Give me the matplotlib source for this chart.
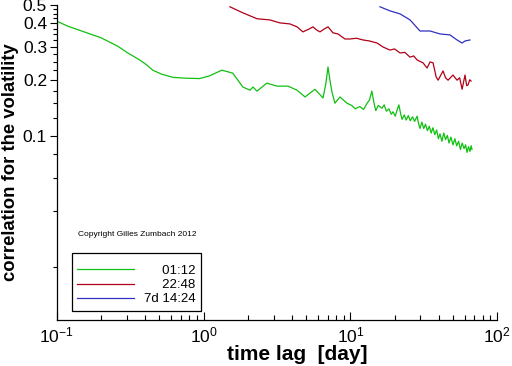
import matplotlib
matplotlib.use("Agg")
import matplotlib.pyplot as plt
import numpy as np
from matplotlib.ticker import FixedLocator, NullFormatter

plt.rcParams['font.family'] = ['Liberation Sans', 'DejaVu Sans']

# ---- data (time lag in days, correlation) ----
lag_0112 = [0.1, 0.12, 0.16, 0.2, 0.26, 0.3, 0.37, 0.41, 0.45, 0.52, 0.62, 0.75, 0.94,
            1.1, 1.33, 1.58, 1.85, 2.07, 2.17, 2.31,
            2.70, 3.16, 3.76, 4.33, 4.91, 5.74, 6.51, 6.8, 7.04, 7.25, 7.49, 7.85, 8.49, 9.48,
            10.2, 10.8, 11.6, 12.3, 13.0, 13.5, 14.0, 14.5, 14.9, 15.5, 16.4, 17.0, 17.6,
            18.3, 19.0, 19.5, 20.2, 21.0, 21.4, 22.0, 22.5, 23.3, 24.0, 24.8, 25.6, 26.5,
            27.4, 28.5, 29.2, 29.8, 30.7, 31.6, 32.5, 33.5, 34.5, 35.5, 36.5, 37.6, 38.7,
            39.8, 40.8, 42.0, 43.3, 44.5, 45.8, 47.0, 48.4, 50.0, 51.5, 53.0, 54.6, 56.2,
            57.8, 59.5, 61.0, 62.3, 63.8, 65.3, 66.5, 67.4]
corr_0112 = [0.41, 0.385, 0.356, 0.335, 0.302, 0.28, 0.254, 0.24, 0.225, 0.214, 0.206,
             0.204, 0.203, 0.21, 0.225, 0.217, 0.183, 0.176,
             0.183, 0.174, 0.192, 0.185, 0.185, 0.176, 0.162, 0.178, 0.160, 0.19, 0.234,
             0.20, 0.172, 0.150, 0.162, 0.150,
             0.146, 0.140, 0.144, 0.139, 0.150, 0.156, 0.174, 0.150, 0.137, 0.146, 0.141,
             0.147, 0.136, 0.140, 0.131, 0.135, 0.128, 0.141, 0.147, 0.132, 0.123, 0.130,
             0.122, 0.129, 0.121, 0.127, 0.120, 0.128, 0.116, 0.110, 0.119, 0.110, 0.116,
             0.107, 0.113, 0.104, 0.111, 0.102, 0.108, 0.097, 0.103, 0.094, 0.104, 0.096,
             0.101, 0.092, 0.099, 0.090, 0.097, 0.089, 0.094, 0.085, 0.092, 0.086, 0.090,
             0.082, 0.088, 0.083, 0.089, 0.085]

lag_2248 = [1.51, 1.85, 2.31, 2.83, 3.31, 3.87, 4.33, 4.75, 5.2, 5.56, 5.9, 6.21, 6.6, 7.04,
            7.61, 8.23, 9.18, 9.93, 11.0, 12.2, 13.5, 15.2, 16.7, 18.6, 20.0, 21.8, 23.5,
            25.5, 27.0, 28.5, 31.3, 33.3, 34.9, 36.6, 38.4, 39.6, 42.8, 44.5, 46.3, 50.0,
            53.3, 55.5, 57.7, 60.4, 62.0, 63.4, 65.0, 66.4]
corr_2248 = [0.490, 0.455, 0.423, 0.417, 0.402, 0.397, 0.383, 0.360, 0.372, 0.383, 0.368,
             0.360, 0.372, 0.383, 0.356, 0.351, 0.330, 0.330, 0.333, 0.326, 0.322, 0.314,
             0.299, 0.288, 0.292, 0.278, 0.280, 0.264, 0.268, 0.255, 0.246, 0.231, 0.249,
             0.246, 0.207, 0.199, 0.223, 0.205, 0.199, 0.212, 0.199, 0.205, 0.178, 0.212,
             0.186, 0.188, 0.200, 0.197]

lag_7d = [15.9, 18.6, 21.8, 25.5, 29.8, 34.9, 40.8, 47.7, 53.3, 57.7, 60.4, 65.3]
corr_7d = [0.490, 0.466, 0.449, 0.417, 0.364, 0.364, 0.351, 0.347, 0.326, 0.314, 0.322, 0.326]

labels = ['     01:12', '     22:48', '7d 14:24']
y_major = [0.1, 0.2, 0.3, 0.4, 0.5]
y_minor = [0.02, 0.04, 0.06, 0.08, 0.125, 0.15, 0.175, 0.225, 0.25, 0.275,
           0.325, 0.35, 0.375, 0.425, 0.45, 0.475]

fig = plt.figure(figsize=(5.12, 3.66), dpi=100)
ax = fig.add_axes([0.111, 0.126, 0.860, 0.860])

ax.plot(lag_0112, corr_0112, color='#10c010', lw=0.9, label=labels[0])
ax.plot(lag_2248, corr_2248, color='#b00018', lw=0.9, label=labels[1])
ax.plot(lag_7d, corr_7d, color='#3030c0', lw=0.9, label=labels[2])

ax.set_xscale('log')
ax.set_yscale('log')
ax.set_xlim(0.1, 100)
ax.set_ylim(0.0105, 0.5)

ax.yaxis.set_major_locator(FixedLocator(y_major))
ax.set_yticklabels([str(v) for v in y_major])
ax.yaxis.set_minor_locator(FixedLocator(y_minor))
ax.yaxis.set_minor_formatter(NullFormatter())

ax.spines['top'].set_visible(False)
ax.spines['right'].set_visible(False)
for s in ['left', 'bottom']:
    ax.spines[s].set_linewidth(0.9)

ax.tick_params(axis='x', which='both', direction='in', labelsize=12.5, width=0.8)
ax.tick_params(axis='x', which='major', length=6, pad=4)
ax.tick_params(axis='x', which='minor', length=3.5)
ax.tick_params(axis='y', which='both', direction='out', labelsize=12.5, width=0.8)
ax.tick_params(axis='y', which='major', length=5, pad=2)
ax.tick_params(axis='y', which='minor', length=3)

ax.set_xlabel('time lag  [day]', fontsize=15, fontweight='bold')
ax.xaxis.set_label_coords(0.545, -0.11)
ax.xaxis.label.set_va('center')
ax.set_ylabel('correlation for the volatility', fontsize=13.3, fontweight='bold', labelpad=3)

ax.text(0.048, 0.27, 'Copyright Gilles Zumbach 2012', transform=ax.transAxes,
        fontsize=6, va='center', ha='left')

leg = ax.legend(loc='lower left', bbox_to_anchor=(0.034, 0.029), borderaxespad=0,
                fontsize=9.5, handlelength=4.3, handletextpad=0.75, labelspacing=0.15,
                borderpad=0.4, fancybox=False, framealpha=1, edgecolor='black',
                title=' ', title_fontsize=4)
leg.get_frame().set_linewidth(0.9)

fig.savefig('out.png', dpi=100)
